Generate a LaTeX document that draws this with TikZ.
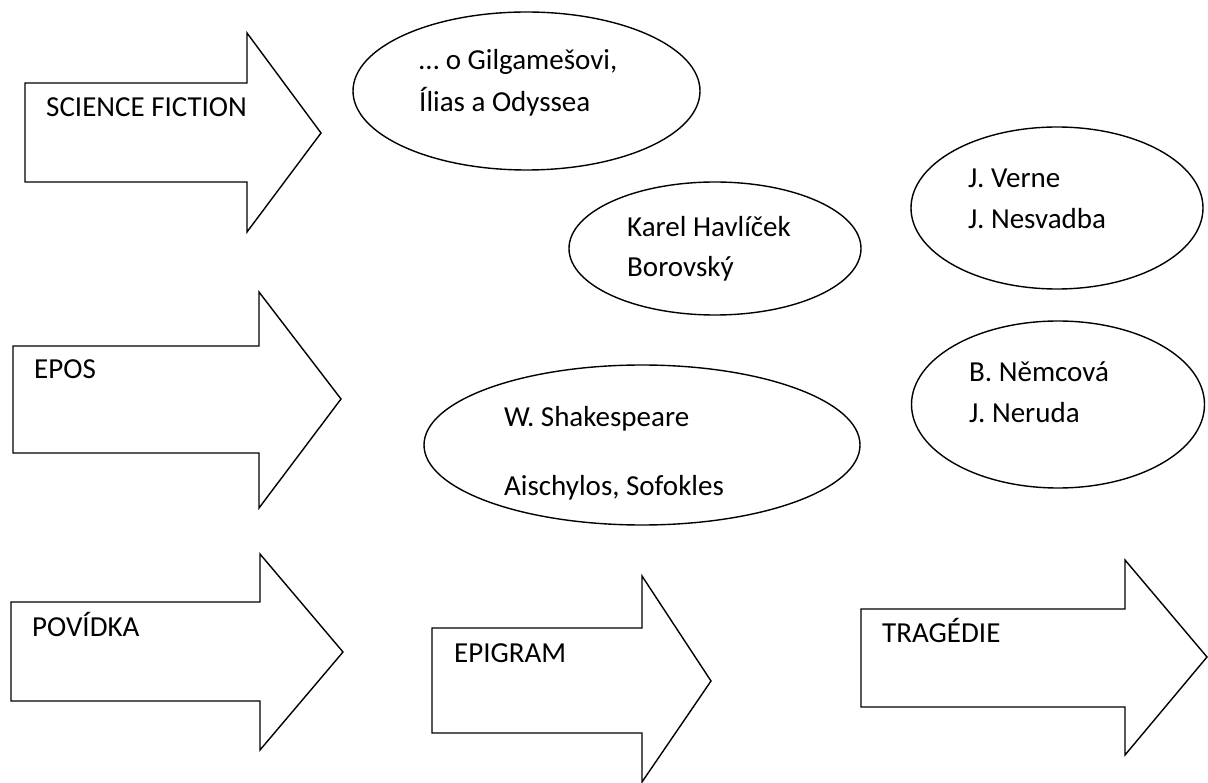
\documentclass[tikz,border=0pt]{standalone}
\usepackage{fontspec}
\setmainfont{Carlito}
\usetikzlibrary{shapes.geometric}
\begin{document}
\begin{tikzpicture}[x=1pt,y=-1pt,
  shp/.style={draw=black, line width=1.4pt, line join=miter, fill=white},
  oval/.style={ellipse, draw=black, line width=1.4pt, inner sep=0pt, fill=white},
  lbl/.style={anchor=base west, inner sep=0pt, font=\fontsize{29}{35}\selectfont}]
\useasboundingbox (0,0) rectangle (1208,783);
% block arrows
\draw[shp] (25,83) -- (247,83) -- (247,33) -- (321,133) -- (247,232) -- (247,182) -- (25,182) -- cycle;
\draw[shp] (13,346) -- (259,346) -- (259,292) -- (341,399) -- (259,508) -- (259,453) -- (13,453) -- cycle;
\draw[shp] (11,602) -- (260,602) -- (260,554) -- (343,652) -- (260,750) -- (260,701) -- (11,701) -- cycle;
\draw[shp] (432,628) -- (642,628) -- (642,576) -- (711,681) -- (642,782) -- (642,733) -- (432,733) -- cycle;
\draw[shp] (861,609) -- (1125,609) -- (1125,560) -- (1207,657) -- (1125,755) -- (1125,707) -- (861,707) -- cycle;
% arrow labels
\node[lbl] (sf) at (46,117) {SCIENCE FICTION};
\node[lbl] (epos) at (34,379) {EPOS};
\node[lbl] (pov) at (32,636) {POVÍDKA};
\node[lbl] (epi) at (454,662) {EPIGRAM};
\node[lbl] (tra) at (882,642) {TRAGÉDIE};
% ellipses
\node[oval, minimum width=347pt, minimum height=158pt] (e1) at (526.5,91) {};
\node[oval, minimum width=292pt, minimum height=133pt] (e2) at (715,248.5) {};
\node[oval, minimum width=292pt, minimum height=162pt] (e3) at (1057,208) {};
\node[oval, minimum width=293pt, minimum height=167pt] (e4) at (1058,404.5) {};
\node[oval, minimum width=436pt, minimum height=160pt] (e5) at (642,445) {};
% ellipse texts
\node[lbl] (t1a) at (419,70) {… o Gilgamešovi,};
\node[lbl] (t1b) at (419,112) {Ílias a Odyssea};
\node[lbl] (t2a) at (627,237) {Karel Havlíček};
\node[lbl] (t2b) at (627,277) {Borovský};
\node[lbl] (t3a) at (968,188) {J. Verne};
\node[lbl] (t3b) at (968,229) {J. Nesvadba};
\node[lbl] (t4a) at (969,382) {B. Němcová};
\node[lbl] (t4b) at (969,423) {J. Neruda};
\node[lbl] (t5a) at (504,427) {W. Shakespeare};
\node[lbl] (t5b) at (504,495) {Aischylos, Sofokles};
\end{tikzpicture}
\end{document}
